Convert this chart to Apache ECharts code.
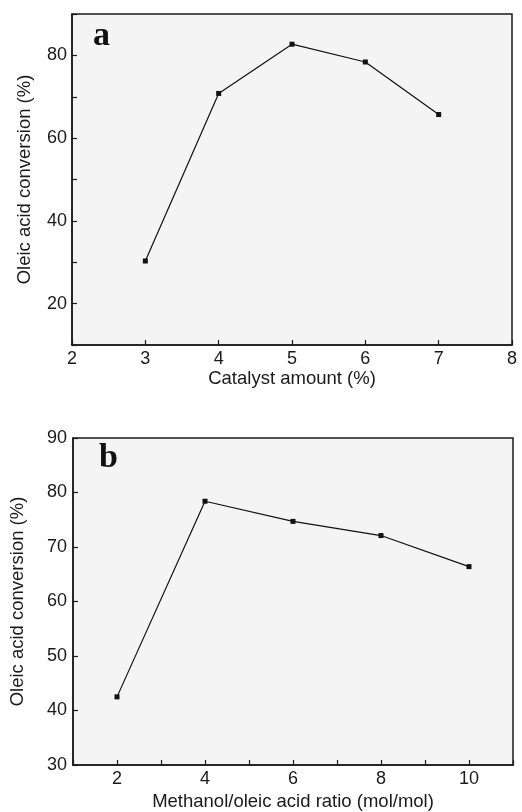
<!DOCTYPE html>
<html>
<head>
<meta charset="utf-8">
<script src="https://cdn.jsdelivr.net/npm/echarts@6/dist/echarts.min.js"></script>
<style>
  html, body { margin: 0; padding: 0; background: #fff; }
  #chart { width: 522px; height: 812px; }
</style>
</head>
<body>
<div id="chart"></div>
<script>
// panel a: catalyst amount
const catalystAmount = [3, 4, 5, 6, 7]
const conversionA = [30.3, 70.8, 82.7, 78.4, 65.7]

// panel b: methanol / oleic acid ratio
const molarRatio = [2, 4, 6, 8, 10]
const conversionB = [42.5, 78.4, 74.7, 72.1, 66.4]

const yLabelsA = [20, 40, 60, 80]
const xLabelsB = [2, 4, 6, 8, 10]

const font = 'Liberation Sans, Arial, sans-serif'

function axisBase() {
  return {
    type: 'value',
    axisLine: { show: true, lineStyle: { color: '#1a1a1a', width: 1.5 } },
    axisTick: { show: true, inside: true, length: 5, lineStyle: { color: '#1a1a1a', width: 1.2 } },
    splitLine: { show: false },
    axisLabel: { color: '#1a1a1a', fontSize: 18, fontFamily: font },
    nameTextStyle: { color: '#1a1a1a', fontSize: 18.5, fontFamily: font },
    nameLocation: 'middle'
  }
}

const chart = echarts.init(document.getElementById('chart'))

chart.setOption({
  animation: false,
  backgroundColor: '#fff',
  title: [
    { text: 'a', left: 88, top: 14, textStyle: { fontFamily: 'Liberation Serif, Times New Roman, serif', fontWeight: 'bold', fontSize: 34, color: '#111' } },
    { text: 'b', left: 94, top: 436, textStyle: { fontFamily: 'Liberation Serif, Times New Roman, serif', fontWeight: 'bold', fontSize: 34, color: '#111' } }
  ],
  grid: [
    { left: 72, right: 10, top: 14, height: 331, show: true, backgroundColor: '#f4f4f4', borderColor: '#1a1a1a', borderWidth: 1.5 },
    { left: 73, right: 9, top: 438, height: 330, show: true, backgroundColor: '#f4f4f4', borderColor: '#1a1a1a', borderWidth: 1.5 }
  ],
  xAxis: [
    Object.assign(axisBase(), {
      gridIndex: 0, min: 2, max: 8, interval: 1,
      name: 'Catalyst amount (%)', nameGap: 24,
      axisLabel: Object.assign(axisBase().axisLabel, { margin: 5 })
    }),
    Object.assign(axisBase(), {
      gridIndex: 1, min: 1, max: 11, interval: 1,
      name: 'Methanol/oleic acid ratio (mol/mol)', nameGap: 27,
      axisLabel: Object.assign(axisBase().axisLabel, {
        margin: 5,
        formatter: v => (xLabelsB.indexOf(v) >= 0 ? String(v) : '')
      })
    })
  ],
  yAxis: [
    Object.assign(axisBase(), {
      gridIndex: 0, min: 10, max: 90, interval: 10,
      name: 'Oleic acid conversion (%)', nameGap: 38,
      axisLabel: Object.assign(axisBase().axisLabel, {
        margin: 5,
        formatter: v => (yLabelsA.indexOf(v) >= 0 ? String(v) : '')
      })
    }),
    Object.assign(axisBase(), {
      gridIndex: 1, min: 30, max: 90, interval: 10,
      name: 'Oleic acid conversion (%)', nameGap: 46,
      axisLabel: Object.assign(axisBase().axisLabel, { margin: 6 })
    })
  ],
  series: [
    {
      type: 'line', xAxisIndex: 0, yAxisIndex: 0,
      data: catalystAmount.map((x, i) => [x, conversionA[i]]),
      symbol: 'rect', symbolSize: 5,
      itemStyle: { color: '#111' },
      lineStyle: { color: '#111', width: 1.2 }
    },
    {
      type: 'line', xAxisIndex: 1, yAxisIndex: 1,
      data: molarRatio.map((x, i) => [x, conversionB[i]]),
      symbol: 'rect', symbolSize: 5,
      itemStyle: { color: '#111' },
      lineStyle: { color: '#111', width: 1.2 }
    }
  ]
})
</script>
</body>
</html>
